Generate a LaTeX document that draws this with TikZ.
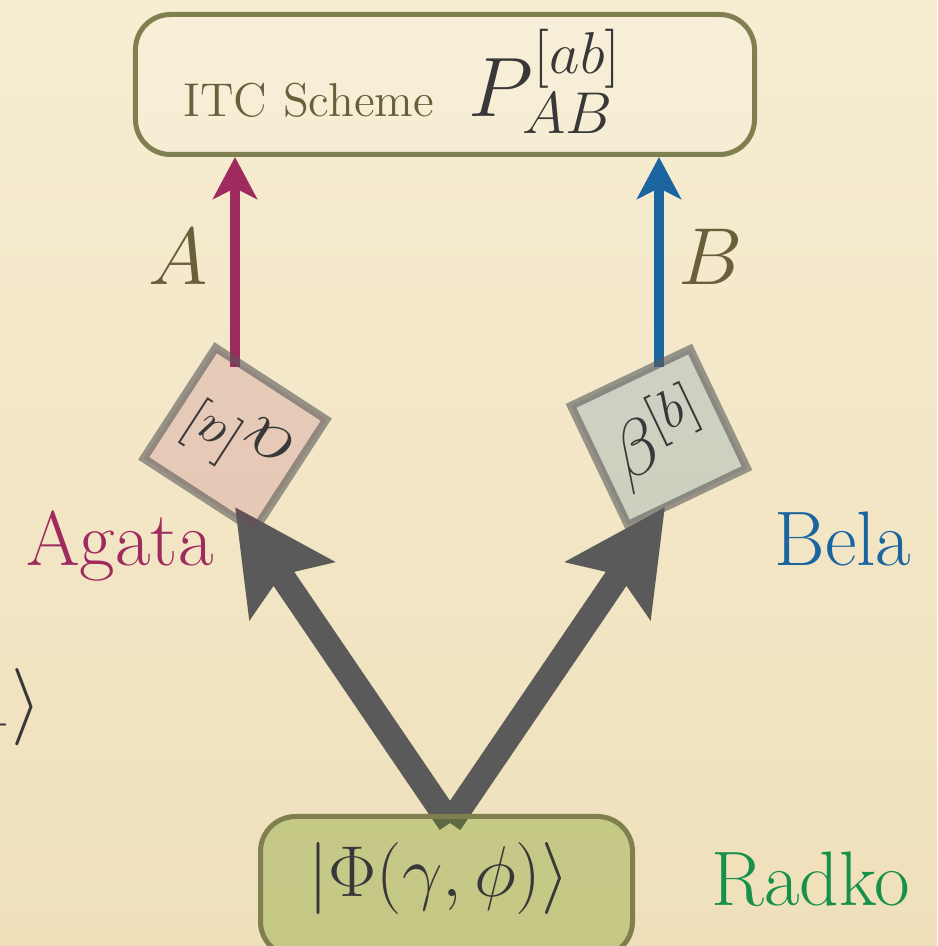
\RequirePackage{fix-cm}
\documentclass[tikz,border=0pt]{standalone}
\usetikzlibrary{arrows.meta}
\definecolor{fondoA}{HTML}{F6EDD3}
\definecolor{fondoB}{HTML}{EFE0BA}
\definecolor{oliva}{HTML}{7F7F4F}
\definecolor{cafe}{HTML}{6B5E3A}
\definecolor{agata}{HTML}{9E2A5E}
\definecolor{bela}{HTML}{1A64A0}
\definecolor{radko}{HTML}{17914A}
\definecolor{gris}{HTML}{5A5A5A}
\definecolor{tinta}{HTML}{383838}
\definecolor{verdecaja}{RGB}{100,145,10}
\begin{document}
\begin{tikzpicture}[
  caja/.style={draw=oliva, line width=0.05cm, rounded corners=0.35cm, inner sep=0pt},
  cuadro/.style={draw=gris, draw opacity=0.6, line width=0.08cm, minimum size=1.32cm,
    inner sep=0pt, text=tinta, text opacity=1, font=\fontsize{22}{26}\selectfont},
  flechita/.style={line width=0.10cm, -{Stealth[length=0.42cm,width=0.44cm,inset=0.11cm]}},
  flechota/.style={gris, line width=0.25cm, -{Stealth[length=1.0cm,width=1.0cm,inset=0.18cm]}},
  nombre/.style={font=\fontsize{22}{26}\selectfont, anchor=base},
  letra/.style={text=cafe, anchor=base, font=\fontsize{23}{28}\selectfont},
]
% Fondo
\useasboundingbox (0,0) rectangle (9.37,9.46);
\shade[top color=fondoA, bottom color=fondoB] (0,0) rectangle (9.37,9.46);

% Caja superior
\node[caja, fill=white, fill opacity=0.12, minimum width=6.19cm, minimum height=1.40cm] (itc) at (4.45,8.615) {};
\node[anchor=base west, inner sep=0pt] (titulo) at (1.83,8.29)
  {\textcolor{cafe}{\fontsize{13.5}{16}\selectfont ITC Scheme}\hspace{0.35cm}%
   \textcolor{tinta}{\fontsize{24}{28}\selectfont$P^{[ab]}_{AB}$}};

% Centros de los cuadros
\coordinate (cA) at (2.35,5.07);
\coordinate (cB) at (6.59,5.09);

% Flechas hacia el esquema
\draw[flechita, agata] ([yshift=0.72cm]cA) -- (cA |- itc.south);
\draw[flechita, bela] ([yshift=0.70cm]cB) -- (cB |- itc.south);
\node[letra] (etA) at (1.78,6.61) {$A$};
\node[letra] (etB) at (7.11,6.61) {$B$};

% Flechas grandes desde el estado
\coordinate (fuente) at (4.50,1.23);
\coordinate (puntaA) at (2.35,4.39);
\coordinate (puntaB) at (6.65,4.39);
\draw[flechota] (fuente) -- (puntaA);
\draw[flechota] (fuente) -- (puntaB);

% Cuadros de medicion
\node[cuadro, fill=agata, fill opacity=0.15, rotate=147] (alfa) at (cA) {$\alpha^{[a]}$};
\node[cuadro, fill=bela, fill opacity=0.17, rotate=25.5] (beta) at (cB) {$\beta^{[b]}$};

% Caja del estado
\node[caja, fill=verdecaja, fill opacity=0.3, minimum width=3.72cm, minimum height=1.40cm] (estado) at (4.465,0.595) {};
\node[anchor=base, text=tinta, font=\fontsize{20.5}{24}\selectfont] (ket) at (4.39,0.50) {$|\Phi(\gamma,\phi)\rangle$};

% Nombres
\node[nombre, text=agata] (nAgata) at (1.20,3.81) {Agata};
\node[nombre, text=bela] (nBela) at (8.43,3.81) {Bela};
\node[nombre, text=radko] (nRadko) at (8.11,0.41) {Radko};

% Resto al borde izquierdo
\node[anchor=base east, inner sep=0pt, text=tinta, font=\fontsize{22}{26}\selectfont] (resto) at (0.42,2.19) {$\Phi_+\rangle$};
\end{tikzpicture}
\end{document}
